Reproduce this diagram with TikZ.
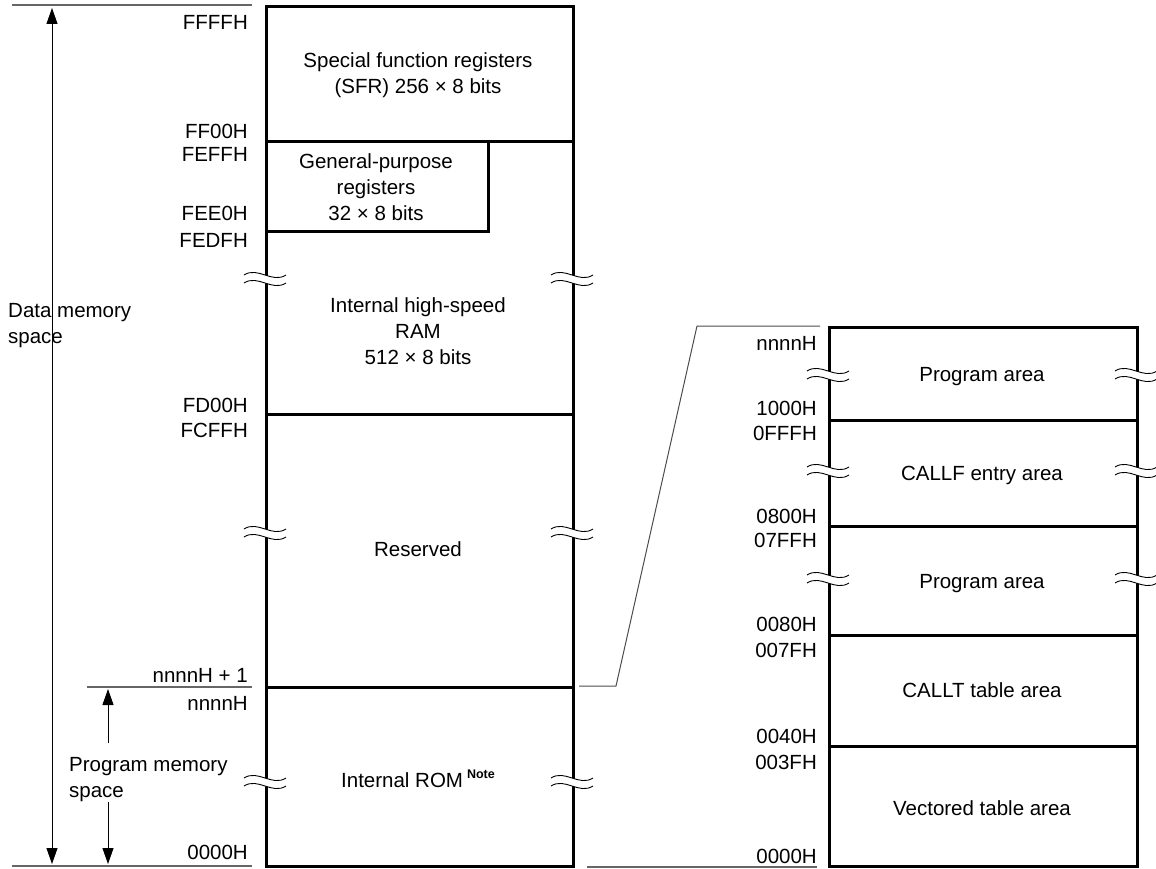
\documentclass[tikz,border=0pt]{standalone}
\usepackage{fontspec}
\setmainfont{Liberation Sans}
\usetikzlibrary{arrows.meta}
\begin{document}
\begin{tikzpicture}[x=1pt,y=-1pt,
  every node/.style={font=\fontsize{20.5}{26}\selectfont, inner sep=0pt, text height=14pt, text depth=0pt},
  region/.style={draw, line width=2.6pt, rectangle, anchor=north west, text height=, text depth=},
  lbl/.style={anchor=east},
  ctr/.style={align=center},
  thinline/.style={draw=black!60, line width=1.3pt},
  conn/.style={draw=black!70, line width=1pt},
  dimarrow/.style={draw=black, line width=1pt, -{Triangle[length=16pt,width=11pt]}},
  brk/.pic={
    \fill[white] (-21,-4) .. controls (-7,-13) and (7,5) .. (21,-4) -- (21,4) .. controls (7,13) and (-7,-5) .. (-21,4) -- cycle;
    \draw[line width=0.9pt] (-21,-4) .. controls (-7,-13) and (7,5) .. (21,-4);
    \draw[line width=0.9pt] (-21,4) .. controls (-7,-5) and (7,13) .. (21,4);
  }]
\useasboundingbox (0,0) rectangle (1156,869);

% ---------- left memory map ----------
\node[region, minimum width=307pt, minimum height=135pt] (sfr) at (265,5) {};
\node[region, minimum width=307pt, minimum height=273pt] (ram) at (265,140) {};
\node[region, minimum width=222pt, minimum height=90pt] (gpr) at (265,140) {};
\node[region, minimum width=307pt, minimum height=273pt] (res) at (265,413) {};
\node[region, minimum width=307pt, minimum height=179pt] (rom) at (265,686) {};

\pic at (265,279) {brk};
\pic at (572,279) {brk};
\pic at (265,533) {brk};
\pic at (572,533) {brk};
\pic at (265,782) {brk};
\pic at (572,782) {brk};

% positions give the last text line
\node[ctr] (tsfr) at (418,87) {Special function registers\\(SFR) 256 × 8 bits};
\node[ctr] (tgpr) at (376,214) {General-purpose\\registers\\32 × 8 bits};
\node[ctr] (tram) at (418,357) {Internal high-speed\\RAM\\512 × 8 bits};
\node (tres) at (418,549) {Reserved};
\node (trom) at (418,780) {Internal ROM\hspace{4pt}\raisebox{9pt}{\fontsize{12.5}{12.5}\selectfont\bfseries Note}};

% left address labels
\node[lbl] (a1) at (248,23) {FFFFH};
\node[lbl] (a2) at (248,132) {FF00H};
\node[lbl] (a3) at (248,155) {FEFFH};
\node[lbl] (a4) at (248,214) {FEE0H};
\node[lbl] (a5) at (248,240) {FEDFH};
\node[lbl] (a6) at (248,405) {FD00H};
\node[lbl] (a7) at (248,430) {FCFFH};
\node[lbl] (a8) at (248,675) {nnnnH + 1};
\node[lbl] (a9) at (248,703) {nnnnH};
\node[lbl] (a10) at (248,852) {0000H};

% left dimension lines
\coordinate (tl1) at (12,5);
\coordinate (tl2) at (252,5);
\coordinate (bl1) at (12,866);
\coordinate (bl2) at (252,866);
\coordinate (pl1) at (87,687);
\coordinate (pl2) at (252,687);
\draw[thinline] (tl1) -- (tl2);
\draw[thinline] (bl1) -- (bl2);
\draw[thinline] (pl1) -- (pl2);

\coordinate (dtop) at (52,8);
\coordinate (dbot) at (52,864);
\draw[dimarrow, {Triangle[length=16pt,width=11pt]}-{Triangle[length=16pt,width=11pt]}] (dtop) -- (dbot);
\node[anchor=west, align=left] (tdata) at (8,336) {Data memory\\space};

\coordinate (pu1) at (108,743);
\coordinate (pu2) at (108,689);
\coordinate (pd1) at (108,802);
\coordinate (pd2) at (108,864);
\draw[dimarrow] (pu1) -- (pu2);
\draw[dimarrow] (pd1) -- (pd2);
\node[anchor=west, align=left] (tprog) at (69,790) {Program memory\\space};

% ---------- right expanded map ----------
\node[region, minimum width=308pt, minimum height=93pt] (p1) at (828,326) {};
\node[region, minimum width=308pt, minimum height=106pt] (cf) at (828,419) {};
\node[region, minimum width=308pt, minimum height=109pt] (p2) at (828,525) {};
\node[region, minimum width=308pt, minimum height=111pt] (ct) at (828,634) {};
\node[region, minimum width=308pt, minimum height=120pt] (vt) at (828,745) {};

\pic at (828,375) {brk};
\pic at (1136,375) {brk};
\pic at (828,471) {brk};
\pic at (1136,471) {brk};
\pic at (828,579) {brk};
\pic at (1136,579) {brk};

\node (tp1) at (982,374) {Program area};
\node (tcf) at (982,473) {CALLF entry area};
\node (tp2) at (982,581) {Program area};
\node (tct) at (982,690) {CALLT table area};
\node (tvt) at (982,808) {Vectored table area};

\node[lbl] (b1) at (817,343) {nnnnH};
\node[lbl] (b2) at (817,408) {1000H};
\node[lbl] (b3) at (817,433) {0FFFH};
\node[lbl] (b4) at (817,516) {0800H};
\node[lbl] (b5) at (817,540) {07FFH};
\node[lbl] (b6) at (817,624) {0080H};
\node[lbl] (b7) at (817,650) {007FH};
\node[lbl] (b8) at (817,736) {0040H};
\node[lbl] (b9) at (817,762) {003FH};
\node[lbl] (b10) at (817,856) {0000H};

\coordinate (rb1) at (587,867);
\coordinate (rb2) at (817,867);
\draw[thinline] (rb1) -- (rb2);

% connector
\coordinate (c1) at (579,686);
\coordinate (c2) at (616,686);
\coordinate (c3) at (697,326);
\coordinate (c4) at (820,326);
\draw[conn] (c1) -- (c2) -- (c3) -- (c4);
\end{tikzpicture}
\end{document}
